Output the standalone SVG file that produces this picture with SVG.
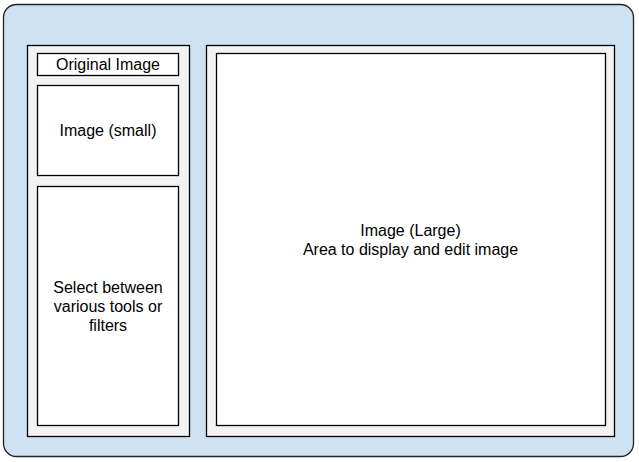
<svg xmlns="http://www.w3.org/2000/svg" width="639" height="462" viewBox="0 0 639 462">
<style>
.box{stroke:#000;stroke-width:1.3}
.panel{fill:#f3f3f3}
.white{fill:#fff}
text{font-family:"Liberation Sans",Arial,sans-serif;font-size:16px;fill:#000;text-anchor:middle}
</style>
<g id="window"><rect x="3.5" y="4.5" width="630" height="452" rx="13" fill="#cfe2f3" stroke="#222" stroke-width="1.3"/></g>
<g id="left-panel"><rect class="box panel" x="27.5" y="45.5" width="162" height="391"/></g>
<g id="original-image"><rect class="box white" x="37.5" y="53.5" width="141" height="22"/><text x="108" y="70">Original Image</text></g>
<g id="image-small"><rect class="box white" x="37.5" y="85.5" width="141" height="90"/><text x="108" y="136">Image (small)</text></g>
<g id="tools"><rect class="box white" x="37.5" y="186.5" width="141" height="239"/><text x="108" y="293">Select between</text><text x="108" y="312">various tools or</text><text x="108" y="331">filters</text></g>
<g id="right-panel"><rect class="box panel" x="206.5" y="45.5" width="408" height="391"/></g>
<g id="image-large"><rect class="box white" x="216.5" y="53.5" width="389" height="372"/><text x="410.5" y="236">Image (Large)</text><text x="410.5" y="255">Area to display and edit image</text></g>
<g id="connectors"></g>
</svg>
